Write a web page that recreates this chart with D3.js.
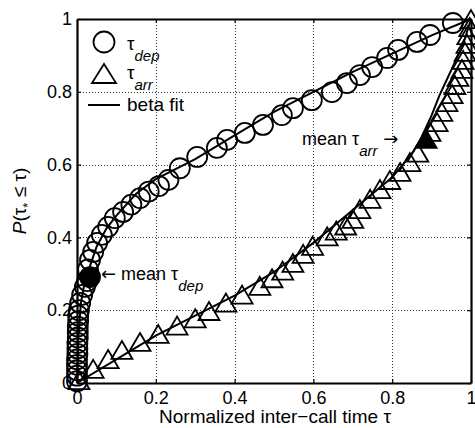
<!DOCTYPE html>
<html>
<head>
<meta charset="utf-8">
<script src="https://cdn.jsdelivr.net/npm/d3@7"></script>
<style>
body { margin: 0; background: #fff; }
svg { display: block; font-family: "Liberation Sans", Arial, Helvetica, sans-serif; }
</style>
</head>
<body>
<svg id="chart" width="475" height="428"></svg>
<script>
'use strict';

// tau_dep empirical points
var depX = [0, 0, 0, 0, 0, 0.001, 0.001, 0.001, 0.002, 0.002, 0.002, 0.003, 0.003, 0.005,
	0.008, 0.013, 0.020, 0.026, 0.028, 0.033, 0.041, 0.051, 0.063, 0.079, 0.096,
	0.117, 0.138, 0.160, 0.182, 0.208, 0.232, 0.261, 0.305, 0.355, 0.381, 0.426,
	0.472, 0.520, 0.548, 0.596, 0.647, 0.685, 0.718, 0.749, 0.787, 0.815, 0.863,
	0.896, 0.954];
var depY = [0.005, 0.020, 0.035, 0.050, 0.065, 0.080, 0.095, 0.110, 0.125, 0.140, 0.155, 0.170, 0.185, 0.200,
	0.220, 0.242, 0.264, 0.280, 0.312, 0.338, 0.360, 0.385, 0.407, 0.429, 0.453,
	0.470, 0.490, 0.508, 0.526, 0.541, 0.558, 0.590, 0.621, 0.646, 0.668, 0.687,
	0.709, 0.736, 0.755, 0.777, 0.799, 0.824, 0.846, 0.868, 0.893, 0.915, 0.937,
	0.956, 0.989];

// tau_arr empirical points
var arrX = [0.005, 0.041, 0.079, 0.114, 0.160, 0.206, 0.254, 0.300, 0.335, 0.378, 0.419,
	0.464, 0.495, 0.522, 0.548, 0.574, 0.598, 0.635, 0.658, 0.682, 0.700, 0.718,
	0.744, 0.769, 0.794, 0.820, 0.845, 0.865, 0.896, 0.914, 0.926, 0.939, 0.952,
	0.959, 0.967, 0.977, 0.980, 0.985, 0.990, 0.992, 0.997, 1.0];
var arrY = [0.005, 0.036, 0.063, 0.088, 0.110, 0.132, 0.155, 0.175, 0.195, 0.218, 0.240,
	0.264, 0.285, 0.306, 0.327, 0.352, 0.374, 0.400, 0.416, 0.430, 0.448, 0.475,
	0.503, 0.530, 0.555, 0.577, 0.604, 0.630, 0.687, 0.714, 0.742, 0.769, 0.791,
	0.816, 0.838, 0.860, 0.885, 0.907, 0.929, 0.953, 0.975, 0.997];

// beta fits
var depFitX = [0, 0.003, 0.01, 0.02, 0.05, 0.075, 0.1, 0.15, 0.2, 0.3, 0.4, 0.5, 0.6, 0.7, 0.8, 0.9, 1];
var depFitY = [0, 0.12, 0.22, 0.28, 0.375, 0.425, 0.46, 0.52, 0.56, 0.615, 0.68, 0.745, 0.8, 0.855, 0.905, 0.955, 1];
var arrFitX = [0, 0.1, 0.2, 0.3, 0.4, 0.5, 0.6, 0.7, 0.8, 0.85, 0.87, 0.9, 0.92, 0.95, 0.98, 1];
var arrFitY = [0, 0.065, 0.13, 0.185, 0.24, 0.305, 0.385, 0.475, 0.565, 0.63, 0.665, 0.735, 0.79, 0.86, 0.93, 1];

// means
var meanDep = [0.033, 0.291];
var meanArr = [0.886, 0.668];

var xTicks = [0, 0.2, 0.4, 0.6, 0.8, 1];
var yTicks = [0, 0.2, 0.4, 0.6, 0.8, 1];
var tickLabels = ['0', '0.2', '0.4', '0.6', '0.8', '1'];

var m = { left: 77, right: 4, top: 19, bottom: 45 };
var W = 475, H = 428;
var svg = d3.select('#chart');

var x = d3.scaleLinear().domain([0, 1]).range([m.left, W - m.right]);
var y = d3.scaleLinear().domain([0, 1]).range([H - m.bottom, m.top]);

var zip = function(a, b) {
	return a.map(function(v, i) { return [v, b[i]]; });
};

var circleR = 10;
var triPath = 'M0,-10L10.5,8L-10.5,8Z';
var arrowFont = '"DejaVu Sans", sans-serif';

// grid
var grid = svg.append('g').attr('stroke', '#333').attr('stroke-width', 1)
	.attr('stroke-dasharray', '1,2');
grid.selectAll('.gx').data(xTicks.slice(1, -1)).enter().append('line')
	.attr('x1', function(d) { return Math.round(x(d)) + 0.5; })
	.attr('x2', function(d) { return Math.round(x(d)) + 0.5; })
	.attr('y1', y(1)).attr('y2', y(0));
grid.selectAll('.gy').data(yTicks.slice(1, -1)).enter().append('line')
	.attr('y1', function(d) { return Math.round(y(d)) + 0.5; })
	.attr('y2', function(d) { return Math.round(y(d)) + 0.5; })
	.attr('x1', x(0)).attr('x2', x(1));

// fit lines
var line = d3.line().x(function(d) { return x(d[0]); }).y(function(d) { return y(d[1]); });
var lines = svg.append('g').attr('fill', 'none').attr('stroke', '#000').attr('stroke-width', 2);
lines.append('path').attr('d', line(zip(depFitX, depFitY)));
lines.append('path').attr('d', line(zip(arrFitX, arrFitY)));

// markers
var marks = svg.append('g').attr('fill', 'none').attr('stroke', '#000').attr('stroke-width', 1.8);
marks.selectAll('circle').data(zip(depX, depY)).enter().append('circle')
	.attr('cx', function(d) { return x(d[0]); })
	.attr('cy', function(d) { return y(d[1]); })
	.attr('r', circleR);
marks.selectAll('path').data(zip(arrX, arrY)).enter().append('path')
	.attr('d', triPath)
	.attr('transform', function(d) { return 'translate(' + x(d[0]) + ',' + y(d[1]) + ')'; });

svg.append('circle')
	.attr('cx', x(meanDep[0])).attr('cy', y(meanDep[1])).attr('r', circleR)
	.attr('fill', '#000').attr('stroke', '#000').attr('stroke-width', 1.8);
svg.append('path').attr('d', triPath)
	.attr('transform', 'translate(' + x(meanArr[0]) + ',' + y(meanArr[1]) + ')')
	.attr('fill', '#000').attr('stroke', '#000').attr('stroke-width', 1.8);

// axes box with inward ticks on all sides
var axes = svg.append('g');
var bottomAxis = axes.append('g').attr('transform', 'translate(0,' + y(0) + ')')
	.call(d3.axisBottom(x).tickValues(xTicks).tickSizeInner(-4).tickSizeOuter(0)
		.tickFormat(function(d, i) { return tickLabels[i]; }));
var leftAxis = axes.append('g').attr('transform', 'translate(' + x(0) + ',0)')
	.call(d3.axisLeft(y).tickValues(yTicks).tickSizeInner(-4).tickSizeOuter(0)
		.tickFormat(function(d, i) { return tickLabels[i]; }));
axes.append('g').attr('transform', 'translate(0,' + y(1) + ')')
	.call(d3.axisTop(x).tickValues(xTicks).tickSizeInner(-4).tickSizeOuter(0).tickFormat(''));
axes.append('g').attr('transform', 'translate(' + x(1) + ',0)')
	.call(d3.axisRight(y).tickValues(yTicks).tickSizeInner(-4).tickSizeOuter(0).tickFormat(''));
axes.selectAll('.domain').attr('stroke', '#000').attr('stroke-width', 2.2);
axes.selectAll('.tick line').attr('stroke', '#000').attr('stroke-width', 1.2);
axes.selectAll('.tick text').attr('font-size', 18).attr('fill', '#000')
	.attr('font-family', '"Liberation Sans", Arial, sans-serif');
bottomAxis.selectAll('.tick text').attr('y', 8);
leftAxis.selectAll('.tick text').attr('x', -5);

// axis titles
svg.append('text')
	.attr('x', (x(0) + x(1)) / 2 + 1).attr('y', 423)
	.attr('text-anchor', 'middle').attr('font-size', 19)
	.text('Normalized inter\u2212call time \u03c4');

var yl = svg.append('text')
	.attr('transform', 'translate(26,' + (y(0.5)) + ') rotate(-90)')
	.attr('text-anchor', 'middle').attr('font-size', 19);
yl.append('tspan').attr('font-style', 'italic').text('P');
yl.append('tspan').text('(\u03c4');
yl.append('tspan').attr('font-size', 13).attr('dy', 6).text('*');
yl.append('tspan').attr('dy', -6).text(' \u2264 \u03c4)');

// legend
var leg = svg.append('g');
leg.append('circle').attr('cx', 104).attr('cy', 42).attr('r', 10.5)
	.attr('fill', 'none').attr('stroke', '#000').attr('stroke-width', 1.8);
leg.append('path').attr('d', 'M0,-10L12,9L-12,9Z').attr('transform', 'translate(104,74)')
	.attr('fill', 'none').attr('stroke', '#000').attr('stroke-width', 1.8);
leg.append('line').attr('x1', 88).attr('x2', 120).attr('y1', 105).attr('y2', 105)
	.attr('stroke', '#000').attr('stroke-width', 2);

var subLabel = function(g, px, py, pre, main, sub, tail) {
	var t = g.append('text').attr('x', px).attr('y', py).attr('font-size', 18);
	if(pre) {
		t.append('tspan').attr('font-family', arrowFont).text(pre);
	}
	t.append('tspan').text(main);
	t.append('tspan').attr('font-style', 'italic').attr('font-size', 15).attr('dy', 11).text(sub);
	if(tail) {
		t.append('tspan').attr('dy', -11).attr('font-family', arrowFont).text(tail);
	}
	return t;
};
subLabel(leg, 127, 50, null, '\u03c4', 'dep').attr('font-size', 19);
subLabel(leg, 127, 79, null, '\u03c4', 'arr').attr('font-size', 19);
leg.append('text').attr('x', 127).attr('y', 111).attr('font-size', 19).text('beta fit');

// annotations
subLabel(svg, 101, 280, '\u2190', ' mean \u03c4', 'dep');
subLabel(svg, 302, 145, null, 'mean \u03c4', 'arr', ' \u2192');
</script>
</body>
</html>
